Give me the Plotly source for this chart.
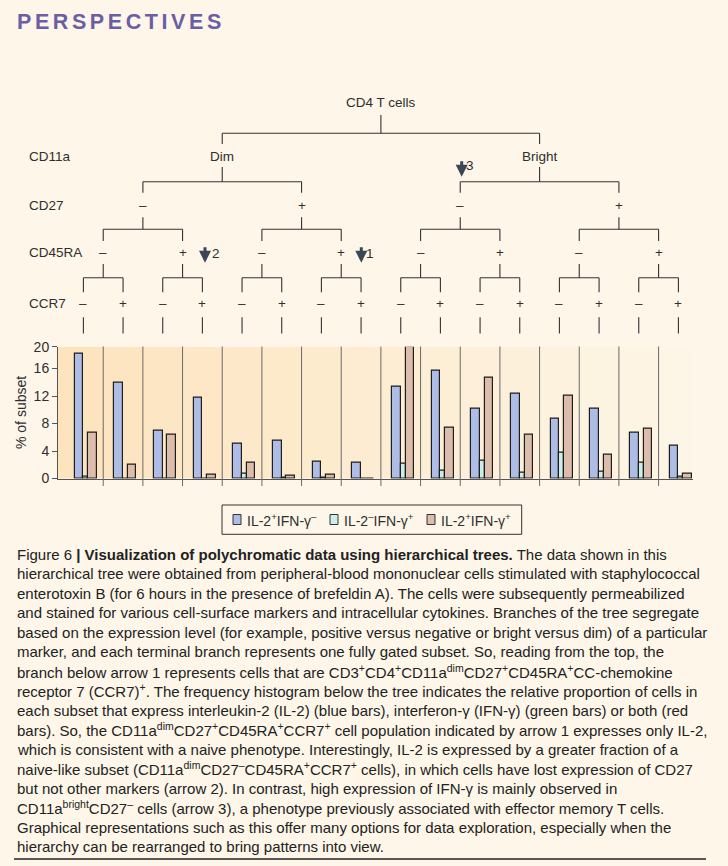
import plotly.graph_objects as go

W, H = 728, 866
def px(x): return x / W
def py(y): return 1 - y / H

# ---------------- data ----------------
subsets = [
    "Dim CD27- CD45RA- CCR7-", "Dim CD27- CD45RA- CCR7+", "Dim CD27- CD45RA+ CCR7-", "Dim CD27- CD45RA+ CCR7+",
    "Dim CD27+ CD45RA- CCR7-", "Dim CD27+ CD45RA- CCR7+", "Dim CD27+ CD45RA+ CCR7-", "Dim CD27+ CD45RA+ CCR7+",
    "Bright CD27- CD45RA- CCR7-", "Bright CD27- CD45RA- CCR7+", "Bright CD27- CD45RA+ CCR7-", "Bright CD27- CD45RA+ CCR7+",
    "Bright CD27+ CD45RA- CCR7-", "Bright CD27+ CD45RA- CCR7+", "Bright CD27+ CD45RA+ CCR7-", "Bright CD27+ CD45RA+ CCR7+",
]
il2_only  = [18.1, 13.9, 6.9, 11.7, 5.0, 5.55, 2.5, 2.35, 13.3, 15.7, 10.2, 12.4, 8.75, 10.2, 6.6, 4.8]
ifng_only = [0.2, 0.0, 0.0, 0.0, 0.65, 0.17, 0.05, 0.0, 2.2, 1.2, 2.65, 0.9, 3.8, 1.05, 2.35, 0.3]
both      = [6.7, 2.0, 6.3, 0.5, 2.35, 0.36, 0.5, 0.0, 19.1, 7.45, 14.7, 6.4, 12.1, 3.4, 7.2, 0.75]
series_names = ["IL-2<sup>+</sup>IFN-γ<sup>–</sup>", "IL-2<sup>–</sup>IFN-γ<sup>+</sup>", "IL-2<sup>+</sup>IFN-γ<sup>+</sup>"]
y_tick_vals = [0, 4, 8, 12, 16, 19.17]
y_tick_text = ["0", "4", "8", "12", "16", "20"]
row_labels = ["CD11a", "CD27", "CD45RA", "CCR7"]
cd11a_labels = ["Dim", "Bright"]

FONT = "Liberation Sans"
TXT = "#2e2e2e"
BG = "#fdf6e9"

x = list(range(len(subsets)))
fig = go.Figure()
colors = ["#aebde6", "#cdeee6", "#dcbdac"]
widths = [0.215, 0.125, 0.215]
offsets = [-0.22, -0.005, 0.12]
for vals, name, c, w, o in zip([il2_only, ifng_only, both], series_names, colors, widths, offsets):
    fig.add_trace(go.Bar(
        x=x, y=vals, name=name, width=w, offset=o, customdata=subsets, showlegend=False,
        marker=dict(color=c, line=dict(color="#1e1e1e", width=1.2)),
        hovertemplate="%{customdata}<br>%{y}%<extra></extra>",
    ))

shapes = []
annotations = []

# background column bands
n = len(subsets)
c0 = (253, 228, 190); c1 = (253, 245, 230)
for k in range(n):
    t = k / (n - 1)
    col = tuple(round(c0[i] + (c1[i] - c0[i]) * t) for i in range(3))
    shapes.append(dict(type="rect", xref="x", yref="y", x0=(k - 0.64 if k == 0 else k - 0.5),
                       x1=(k + 0.36 if k == n - 1 else k + 0.5), y0=0, y1=19.17,
                       fillcolor="rgb(%d,%d,%d)" % col, line=dict(width=0), layer="below"))
# separators
for k in range(n - 1):
    shapes.append(dict(type="line", xref="x", yref="paper", x0=k + 0.5, x1=k + 0.5,
                       y0=py(346.5), y1=py(486), line=dict(color="#6a6a6a", width=1)))

# ---------------- tree ----------------
LC = "#333333"
def seg(x0, y0, x1, y1):
    shapes.append(dict(type="line", xref="x", yref="paper", x0=x0, x1=x1, y0=py(y0), y1=py(y1),
                       line=dict(color=LC, width=1.1)))

levels = [list(map(float, x))]
while len(levels[-1]) > 1:
    prev = levels[-1]
    levels.append([(prev[2 * i] + prev[2 * i + 1]) / 2 for i in range(len(prev) // 2)])
levels = levels[::-1]  # root, cd11a, cd27, cd45ra, ccr7
label_y = [102, 156, 205.5, 252.7, 304]
stem_top = [115, 167, 217.3, 264]
bar_y = [133.3, 181.7, 229.3, 277.7]
drop_bot = [144, 192.7, 241, 292.3]
for li in range(4):
    for pi, p in enumerate(levels[li]):
        a, b = levels[li + 1][2 * pi], levels[li + 1][2 * pi + 1]
        seg(p, stem_top[li], p, bar_y[li])
        seg(a, bar_y[li], b, bar_y[li])
        seg(a, bar_y[li], a, drop_bot[li])
        seg(b, bar_y[li], b, drop_bot[li])
for xl in levels[4]:
    seg(xl, 317.3, xl, 333.5)

def txt(text, xx, yy, xref="paper", size=13.5, anchor="center", color=TXT, **kw):
    annotations.append(dict(text=text, x=xx, y=yy, xref=xref, yref="paper", showarrow=False,
                            xanchor=anchor, yanchor="middle", font=dict(family=FONT, size=size, color=color), **kw))

txt("CD4 T cells", levels[0][0], py(label_y[0]), xref="x")
for i, xv in enumerate(levels[1]):
    txt(cd11a_labels[i], xv, py(label_y[1]), xref="x")
for li in (2, 3, 4):
    for i, xv in enumerate(levels[li]):
        txt("–" if i % 2 == 0 else "+", xv, py(label_y[li]), xref="x")
for lab, yy in zip(row_labels, label_y[1:]):
    txt(lab, px(27), py(yy), anchor="left")

# arrows
AC = "#3b4656"
for ax_px, ytip, ylab, num, lx in [(361.3, 262.7, 253.3, "1", 369.5), (205, 262.7, 253.3, "2", 216),
                                    (461.7, 176.7, 165, "3", 469.5)]:
    annotations.append(dict(text="", x=px(ax_px), y=py(ytip), xref="paper", yref="paper", showarrow=True,
                            ax=0, ay=-17, arrowhead=2, arrowsize=0.8, arrowwidth=3, arrowcolor=AC, standoff=0))
    txt(num, px(lx), py(ylab), anchor="center", size=13.5)

# header
annotations.append(dict(text="<b>" + "\u2006".join("PERSPECTIVES") + "</b>", x=px(15), y=py(22),
                        xref="paper", yref="paper", showarrow=False, xanchor="left", yanchor="middle",
                        font=dict(family=FONT, size=21.5, color="#6b5fa4")))

# y title
annotations.append(dict(text="% of subset", x=px(21), y=py(413), xref="paper", yref="paper",
                        showarrow=False, textangle=-90, xanchor="center", yanchor="middle",
                        font=dict(family=FONT, size=14, color=TXT)))

# legend (drawn as box + swatches + labels)
shapes.append(dict(type="rect", xref="paper", yref="paper", x0=px(222), x1=px(521.7), y0=py(505), y1=py(534.3),
                   line=dict(color="#333333", width=1), fillcolor="rgba(0,0,0,0)"))
for sx, name, c in zip([233, 330, 427], series_names, colors):
    shapes.append(dict(type="rect", xref="paper", yref="paper", x0=px(sx), x1=px(sx + 8), y0=py(524.5), y1=py(514.5),
                       line=dict(color="#333333", width=1), fillcolor=c))
    txt(name, px(sx + 12), py(519.5), anchor="left", size=14)

# caption
caption = [
    "Figure 6 <b>| Visualization of polychromatic data using hierarchical trees.</b> The data shown in this",
    "hierarchical tree were obtained from peripheral-blood mononuclear cells stimulated with staphylococcal",
    "enterotoxin B (for 6 hours in the presence of brefeldin A). The cells were subsequently permeabilized",
    "and stained for various cell-surface markers and intracellular cytokines. Branches of the tree segregate",
    "based on the expression level (for example, positive versus negative or bright versus dim) of a particular",
    "marker, and each terminal branch represents one fully gated subset. So, reading from the top, the",
    "branch below arrow 1 represents cells that are CD3<sup>+</sup>CD4<sup>+</sup>CD11a<sup>dim</sup>CD27<sup>+</sup>CD45RA<sup>+</sup>CC-chemokine",
    "receptor 7 (CCR7)<sup>+</sup>. The frequency histogram below the tree indicates the relative proportion of cells in",
    "each subset that express interleukin-2 (IL-2) (blue bars), interferon-γ (IFN-γ) (green bars) or both (red",
    "bars). So, the CD11a<sup>dim</sup>CD27<sup>+</sup>CD45RA<sup>+</sup>CCR7<sup>+</sup> cell population indicated by arrow 1 expresses only IL-2,",
    "which is consistent with a naive phenotype. Interestingly, IL-2 is expressed by a greater fraction of a",
    "naive-like subset (CD11a<sup>dim</sup>CD27<sup>–</sup>CD45RA<sup>+</sup>CCR7<sup>+</sup> cells), in which cells have lost expression of CD27",
    "but not other markers (arrow 2). In contrast, high expression of IFN-γ is mainly observed in",
    "CD11a<sup>bright</sup>CD27<sup>–</sup> cells (arrow 3), a phenotype previously associated with effector memory T cells.",
    "Graphical representations such as this offer many options for data exploration, especially when the",
    "hierarchy can be rearranged to bring patterns into view.",
]
for i, line in enumerate(caption):
    txt(line, px(15), py(554 + i * 19.5), anchor="left", size=15, color="#222222")
shapes.append(dict(type="line", xref="paper", yref="paper", x0=px(14), x1=px(706), y0=py(859), y1=py(859),
                   line=dict(color="#222222", width=1.5)))

fig.update_layout(
    width=W, height=H, margin=dict(l=0, r=0, t=0, b=0, autoexpand=False),
    paper_bgcolor=BG, plot_bgcolor="rgba(0,0,0,0)",
    barmode="overlay", bargap=0, showlegend=False,
    font=dict(family=FONT, color=TXT, size=14),
    xaxis=dict(domain=[px(58), px(692.7)], range=[-0.64, 15.36], showline=True, linecolor="#555555",
               linewidth=1, showticklabels=False, ticks="", showgrid=False, zeroline=False, fixedrange=True),
    yaxis=dict(domain=[py(478.5), py(346.7)], range=[0, 19.17], tickvals=y_tick_vals, ticktext=y_tick_text,
               showline=True, linecolor="#555555", linewidth=1, ticks="outside", ticklen=5, tickcolor="#555555",
               showgrid=False, zeroline=False, tickfont=dict(size=14, color=TXT), fixedrange=True),
    shapes=shapes, annotations=annotations,
)
fig.write_html(
    "out.html",
    config={"displayModeBar": False},
    post_script="document.body.style.margin='0';document.body.style.background='%s';"
                "document.documentElement.style.overflow='hidden';" % BG,
)
